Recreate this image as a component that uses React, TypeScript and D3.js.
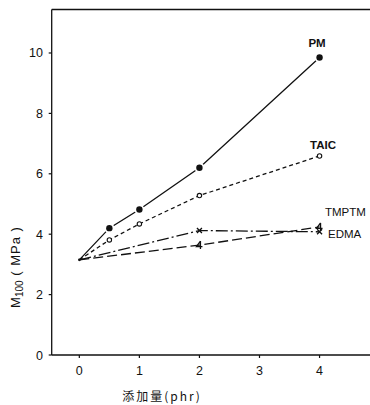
import React, { useEffect, useRef } from 'react';
import * as d3 from 'd3';

// data
const xTicks = [0, 1, 2, 3, 4];
const yTicks = [0, 2, 4, 6, 8, 10];
const pmX = [0, 0.5, 1, 2, 4];
const pmY = [3.15, 4.2, 4.82, 6.2, 9.85];
const taicX = [0, 0.5, 1, 2, 4];
const taicY = [3.15, 3.81, 4.34, 5.28, 6.59];
const tmptmX = [0, 2, 4];
const tmptmY = [3.15, 4.12, 4.08];
const edmaX = [0, 2, 4];
const edmaY = [3.15, 3.64, 4.24];

const App = () => {
  const ref = useRef<SVGSVGElement | null>(null);

  useEffect(() => {
    const svg = d3.select(ref.current);
    svg.selectAll('*').remove();

    const x = d3.scaleLinear().domain([-0.46, 4.84]).range([51.7, 370]);
    const y = d3.scaleLinear().domain([0, 11.44]).range([355, 9.5]);
    const font = 'Liberation Sans, Arial, sans-serif';
    const ink = '#111';

    // frame: left axis, bottom axis, top border
    const frame = svg.append('g').attr('stroke', ink).attr('stroke-width', 1.3).attr('fill', 'none');
    frame.append('line').attr('x1', x(-0.46)).attr('x2', x(-0.46)).attr('y1', y(11.44)).attr('y2', y(0));
    frame.append('line').attr('x1', x(-0.46)).attr('x2', 370).attr('y1', y(0)).attr('y2', y(0));
    frame.append('line').attr('x1', x(-0.46)).attr('x2', 370).attr('y1', y(11.44)).attr('y2', y(11.44));

    // y ticks
    const yg = svg.append('g');
    yTicks.forEach(t => {
      yg.append('line').attr('x1', x(-0.46) - 3).attr('x2', x(-0.46))
        .attr('y1', y(t)).attr('y2', y(t)).attr('stroke', ink).attr('stroke-width', 1.2);
      yg.append('text').attr('x', 43).attr('y', y(t)).attr('dy', '0.36em')
        .attr('text-anchor', 'end').attr('font-family', font).attr('font-size', 12.5)
        .attr('fill', ink).text(String(t));
    });

    // x ticks
    const xg = svg.append('g');
    xTicks.forEach(t => {
      xg.append('line').attr('x1', x(t)).attr('x2', x(t))
        .attr('y1', y(0)).attr('y2', y(0) + 3).attr('stroke', ink).attr('stroke-width', 1.2);
      xg.append('text').attr('x', x(t)).attr('y', 370).attr('dy', '0.36em')
        .attr('text-anchor', 'middle').attr('font-family', font).attr('font-size', 12.5)
        .attr('fill', ink).text(String(t));
    });

    // axis titles
    const yl = svg.append('text')
      .attr('transform', `translate(20,267) rotate(-90)`)
      .attr('text-anchor', 'middle').attr('font-family', font).attr('font-size', 13)
      .attr('fill', ink);
    yl.append('tspan').text('M');
    yl.append('tspan').attr('font-size', 10).attr('dy', 3).text('100');
    yl.append('tspan').attr('dy', -3).attr('letter-spacing', 1).text(' ( MPa )');

    svg.append('text').attr('x', 162).attr('y', 397).attr('dy', '0.36em')
      .attr('text-anchor', 'middle').attr('font-family', 'Noto Sans CJK JP, sans-serif')
      .attr('font-size', 12).attr('letter-spacing', 2).attr('fill', ink).text('添加量(phr)');

    const line = d3.line<[number, number]>().x(d => x(d[0])).y(d => y(d[1]));
    const series = [
      { xs: pmX, ys: pmY, dash: null },
      { xs: taicX, ys: taicY, dash: '4,3' },
      { xs: tmptmX, ys: tmptmY, dash: '12,3,2,3' },
      { xs: edmaX, ys: edmaY, dash: '10,4' },
    ];
    series.forEach(s => {
      const pts = s.xs.map((v, i) => [v, s.ys[i]] as [number, number]);
      svg.append('path').attr('d', line(pts)).attr('fill', 'none')
        .attr('stroke', ink).attr('stroke-width', 1.3)
        .attr('stroke-dasharray', s.dash);
    });

    // origin dot
    svg.append('circle').attr('cx', x(0)).attr('cy', y(3.15)).attr('r', 1.3).attr('fill', ink);

    // PM filled circles, white halo leaves a gap in the line like the original
    const pm = svg.append('g').selectAll('g').data(pmX.slice(1)).enter().append('g')
      .attr('transform', (d, i) => `translate(${x(d)},${y(pmY[i + 1])})`);
    pm.append('circle').attr('r', 5).attr('fill', 'white');
    pm.append('circle').attr('r', 3.2).attr('fill', ink);

    // TAIC open circles
    svg.append('g').selectAll('circle').data(taicX.slice(1)).enter().append('circle')
      .attr('cx', d => x(d)).attr('cy', (d, i) => y(taicY[i + 1])).attr('r', 2.2)
      .attr('fill', 'white').attr('stroke', ink).attr('stroke-width', 1.1);

    // TMPTM x markers
    svg.append('g').selectAll('path').data(tmptmX.slice(1)).enter().append('path')
      .attr('transform', (d, i) => `translate(${x(d)},${y(tmptmY[i + 1])})`)
      .attr('d', 'M-2.5,-2.5L2.5,2.5M2.5,-2.5L-2.5,2.5')
      .attr('stroke', ink).attr('stroke-width', 1.3).attr('fill', 'white');

    // EDMA "4"-like half triangle markers
    svg.append('g').selectAll('path').data(edmaX.slice(1)).enter().append('path')
      .attr('transform', (d, i) => `translate(${x(d)},${y(edmaY[i + 1])})`)
      .attr('d', 'M1,-4L-3,1.5L3,1.5M1,-4L1,4')
      .attr('stroke', ink).attr('stroke-width', 1.3).attr('fill', 'none');

    // series labels
    const labels = [
      { t: 'PM', x: 317, y: 42.5, a: 'middle', w: 'bold' },
      { t: 'TAIC', x: 323, y: 145, a: 'middle', w: 'bold' },
      { t: 'TMPTM', x: 325, y: 211.5, a: 'start', w: 'normal' },
      { t: 'EDMA', x: 328, y: 234, a: 'start', w: 'normal' },
    ];
    labels.forEach(l => {
      svg.append('text').attr('x', l.x).attr('y', l.y).attr('dy', '0.36em')
        .attr('text-anchor', l.a).attr('font-family', font).attr('font-size', 11.5)
        .attr('font-weight', l.w).attr('fill', ink).text(l.t);
    });
  }, []);

  return (
    <svg ref={ref} width={370} height={405}
      style={{ position: 'absolute', left: 0, top: 0, background: 'white' }} />
  );
};

export default App;
